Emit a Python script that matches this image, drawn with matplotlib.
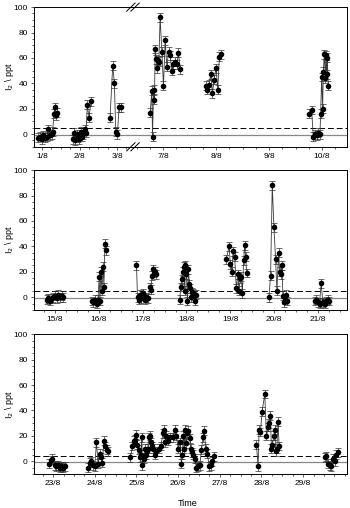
import numpy as np
import matplotlib
matplotlib.use("Agg")
import matplotlib.pyplot as plt
from matplotlib.lines import Line2D
from matplotlib.ticker import MultipleLocator, FixedLocator

nan = np.nan

# ---- panel 1 (1/8 - 10/8, broken axis) ----
p1_t = [0.902, 0.947, 0.991, 1.036, 1.08, 1.124, 1.169, 1.213, 1.258, 1.284, 1.32, 1.347, 1.373, 1.391, nan,
        1.818, 1.853, 1.889, 1.924, 1.96, 1.996, 2.031, 2.067, 2.102, 2.138, 2.173, 2.209, 2.253, 2.307, nan,
        2.813, 2.884, 2.929, 2.964, 3.009, 3.053, 3.098, nan,
        6.755, 6.786, 6.799, 6.818, 6.836, 6.849, 6.868, 6.881, 6.899, 6.918, 6.943, 6.975, 7.006, 7.038,
        7.069, 7.101, 7.132, 7.164, 7.195, 7.226, 7.258, 7.289, 7.321, nan,
        7.805, 7.836, 7.868, 7.899, 7.931, 7.962, 8.0, 8.031, 8.063, 8.094, nan,
        9.761, 9.805, 9.836, 9.868, 9.899, 9.931, 9.962, 9.975, 9.994, 10.013, 10.025, 10.044, 10.063,
        10.075, 10.088, 10.101, 10.119]
p1_v = [-3, -2, -4, -1, -3, -2, 4, -1, 0, 2, 16, 21, 15, 17, nan,
        -4, 1, -5, 0, -3, -4, 2, -2, 0, 4, 1, 23, 13, 26, nan,
        13, 54, 40, 2, 0, 21, 21, nan,
        17, 34, -2, 35, 27, 67, 59, 52, 58, 57, 92, 65, 38, 74,
        53, 65, 62, 50, 55, 57, 55, 64, 51, nan,
        38, 35, 39, 47, 32, 43, 52, 35, 61, 63, nan,
        16, 19, -2, 0, -1, 1, 0, 16, 45, 20, 49, 63, 44,
        62, 47, 60, 38]

# ---- panel 2 (15/8 - 21/8) ----
p2_t = [14.81, 14.848, 14.886, 14.924, 14.962, 15.0, 15.038, 15.076, 15.114, 15.152, 15.19, nan,
        15.835, 15.873, 15.911, 15.949, 15.98, 16.01, 16.025, 16.048, 16.071, 16.101, 16.116, 16.139, 16.162, nan,
        16.86, 16.883, 16.921, 16.951, 16.974, 17.012, 17.05, 17.088, 17.126, 17.164, 17.187, 17.217, 17.24,
        17.263, 17.293, 17.316, nan,
        17.847, 17.87, 17.893, 17.916, 17.939, 17.961, 17.977, 17.999, 18.022, 18.045, 18.068, 18.09, 18.113,
        18.136, 18.159, 18.181, 18.204, 18.227, nan,
        18.91, 18.971, 19.002, 19.04, 19.063, 19.1, 19.138, 19.176, 19.199, 19.229, 19.252, 19.275, 19.305,
        19.328, 19.351, 19.374, nan,
        19.882, 19.92, 19.958, 19.996, 20.034, 20.064, 20.103, 20.125, 20.148, 20.179, 20.201, 20.224, 20.247,
        20.277, 20.3, nan,
        20.923, 20.961, 20.999, 21.037, 21.074, 21.112, 21.15, 21.188, 21.226, 21.264]
p2_v = [-2, -1, -3, -1, 0, 1, -1, 2, 0, 1, 0, nan,
        -3, -4, -2, -5, -2, 16, -3, 20, 5, 24, 8, 42, 37, nan,
        25, 0, -2, 2, -1, 3, -2, 0, -1, 8, 6, 17, 22, 19, 20, 18, nan,
        -2, 8, 14, 20, 24, 5, 25, 18, -3, 22, 10, 7, 0, 4, 3, 1, -3, 2, nan,
        30, 40, 26, 20, 36, 32, 7, 18, 5, 15, 16, 3, 29, 41, 32, 19, nan,
        0, 17, 88, 55, 30, 5, 35, 20, 18, 25, 1, -4, -2, 2, -3, nan,
        -3, -2, -4, -5, 11, -4, -5, -3, -2, -3]

# ---- panel 3 (23/8 - 29/8) ----
p3_t = [22.904, 22.944, 22.984, 23.04, 23.08, 23.12, 23.16, 23.2, 23.24, 23.28, nan,
        23.84, 23.88, 23.92, 23.96, 24.0, 24.04, 24.08, 24.12, 24.16, 24.184, 24.216, 24.256, 24.296, 24.32, nan,
        24.856, 24.904, 24.936, 24.968, 25.0, 25.024, 25.056, 25.08, 25.104, 25.128, 25.144, 25.176, 25.2,
        25.224, 25.248, 25.272, 25.296, 25.32, 25.344, 25.368, 25.4, 25.44, 25.48, 25.544, 25.584, 25.64,
        25.664, 25.696, 25.72, 25.76, 25.8, 25.88, 25.92, 25.96, 26.0, 26.04, 26.08, 26.104, 26.12, 26.144,
        26.168, 26.2, 26.224, 26.248, 26.28, 26.304, 26.328, 26.36, 26.4, 26.44, 26.48, 26.52, 26.56, 26.6,
        26.624, 26.664, 26.704, 26.744, 26.784, 26.824, 26.864, nan,
        27.88, 27.92, 27.944, 27.976, 28.016, 28.08, 28.12, 28.16, 28.184, 28.216, 28.24, 28.264, 28.296,
        28.32, 28.344, 28.368, 28.4, 28.424, nan,
        29.52, 29.56, 29.6, 29.64, 29.68, 29.72, 29.76, 29.8, 29.84]
p3_v = [-2, 1, 2, -3, -4, -3, -5, -4, -5, -4, nan,
        -5, -1, 0, -3, -4, 15, -2, 6, 3, -1, 16, 12, 9, 8, nan,
        3, 12, 16, 17, 21, 13, 9, 3, 5, 19, -3, 2, 10,
        5, 8, 10, 19, 20, 15, 12, 10, 5, 8, 10, 12, 22,
        25, 15, 20, 16, 19, 19, 25, 20, 10, 15, -2, 5, 20, 10,
        25, 14, 22, 24, 18, 10, 7, 5, 2, -5, -4, -3, 9, 19,
        24, 10, 6, -4, -3, 0, 4, nan,
        13, -4, 25, 23, 39, 53, 20, 27, 30, 36, 10, 13, 20,
        25, 8, 10, 31, 12, nan,
        3, 4, -2, -3, -4, 2, 0, 5, 7]

err = 3.5
zero_line = -0.7
detect_limit = 4.5

p1_days_left = [1, 2, 3]
p1_days_right = [7, 8, 9, 10]
p2_days = [15, 16, 17, 18, 19, 20, 21]
p3_days = [23, 24, 25, 26, 27, 28, 29]

FS = 6
plt.rcParams['font.family'] = ['Liberation Sans', 'DejaVu Sans']
plt.rcParams['font.size'] = FS

fig = plt.figure(figsize=(3.5, 5.08), dpi=100)

L, R = 0.097, 0.991
brk = 0.386
h = 0.275
bottoms = [0.711, 0.390, 0.067]
ax1a = fig.add_axes([L, bottoms[0], brk - L, h])
ax1b = fig.add_axes([brk, bottoms[0], R - brk, h])
ax2 = fig.add_axes([L, bottoms[1], R - L, h])
ax3 = fig.add_axes([L, bottoms[2], R - L, h])


def draw(ax, t, v, days, xlim):
    t = np.array(t, dtype=float)
    v = np.array(v, dtype=float)
    ax.plot(t, v, '-', color='#3a3a3a', lw=0.6, zorder=2)
    ok = ~np.isnan(t)
    ax.errorbar(t[ok], v[ok], yerr=err, fmt='o', ms=3.0, color='black', ecolor='#333333',
                elinewidth=0.5, capsize=2.0, capthick=0.5, zorder=3)
    ax.axhline(zero_line, color='#888888', lw=0.9, zorder=1)
    ax.axhline(detect_limit, color='black', lw=0.7, ls=(0, (6, 3)), zorder=1)
    ax.set_xlim(*xlim)
    ax.set_ylim(-10, 100)
    ax.xaxis.set_major_locator(FixedLocator(days))
    ax.xaxis.set_minor_locator(MultipleLocator(0.25))
    ax.set_xticklabels([f"{d}/8" for d in days])
    ax.yaxis.set_major_locator(MultipleLocator(20))
    ax.yaxis.set_minor_locator(MultipleLocator(5))
    ax.tick_params(which='both', direction='out', labelsize=FS, width=0.6, color='#444444')
    ax.tick_params(which='major', length=2.5, pad=2)
    ax.tick_params(which='minor', length=1.5)
    for s in ax.spines.values():
        s.set_linewidth(0.7)


draw(ax1a, p1_t, p1_v, p1_days_left, (0.787, 3.48))
draw(ax1b, p1_t, p1_v, p1_days_right, (6.47, 10.47))
draw(ax2, p2_t, p2_v, p2_days, (14.52, 21.66))
draw(ax3, p3_t, p3_v, p3_days, (22.54, 30.05))

ax1a.spines['right'].set_visible(False)
ax1b.spines['left'].set_visible(False)
ax1b.tick_params(axis='y', which='both', left=False, labelleft=False)

# break marks
for yb in (bottoms[0], bottoms[0] + h):
    for dx in (-0.012, 0.0):
        x0 = brk + dx
        fig.add_artist(Line2D([x0 - 0.012, x0 + 0.012], [yb - 0.008, yb + 0.008],
                              transform=fig.transFigure, color='black', lw=0.7))

for b in bottoms:
    fig.text(9 / 350, b + h / 2, "I$_2$ \\ ppt", rotation=90, ha='center', va='center', fontsize=FS + 0.5)

fig.text(188 / 350, 1 - 503 / 508, "Time", ha='center', va='center', fontsize=FS + 0.5)

fig.savefig("out.png", dpi=100)
